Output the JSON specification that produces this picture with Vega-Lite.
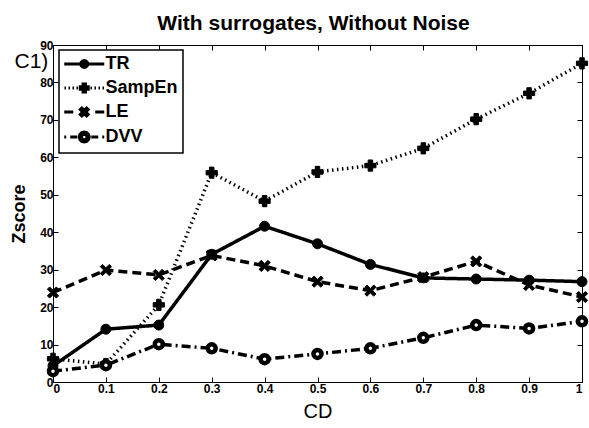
{
  "$schema": "https://vega.github.io/schema/vega-lite/v6.json",
  "width": 529,
  "height": 337,
  "autosize": {"type": "none"},
  "padding": {"left": 53, "top": 45, "right": 7, "bottom": 46},
  "background": "white",
  "title": {"text": "With surrogates, Without Noise", "fontSize": 21, "fontWeight": "bold", "font": "Liberation Sans", "color": "black", "anchor": "middle", "baseline": "alphabetic", "offset": -12, "dx": -4},
  "config": {
    "view": {"stroke": "black", "strokeWidth": 1},
    "axis": {"labelFont": "Liberation Sans", "labelFontSize": 12, "labelFontWeight": "bold", "labelColor": "black", "domainColor": "black", "tickColor": "black", "tickSize": -5, "grid": false, "titleColor": "black", "titleFont": "Liberation Sans"},
    "legend": {"strokeWidth": 1.5}
  },
  "data": {"values": [
    {"CD": 0, "series": "TR", "Zscore": 4.3},
    {"CD": 0.1, "series": "TR", "Zscore": 14.1},
    {"CD": 0.2, "series": "TR", "Zscore": 15.2},
    {"CD": 0.3, "series": "TR", "Zscore": 34.1},
    {"CD": 0.4, "series": "TR", "Zscore": 41.6},
    {"CD": 0.5, "series": "TR", "Zscore": 36.9},
    {"CD": 0.6, "series": "TR", "Zscore": 31.4},
    {"CD": 0.7, "series": "TR", "Zscore": 27.8},
    {"CD": 0.8, "series": "TR", "Zscore": 27.5},
    {"CD": 0.9, "series": "TR", "Zscore": 27.2},
    {"CD": 1, "series": "TR", "Zscore": 26.8},
    {"CD": 0, "series": "SampEn", "Zscore": 6.2},
    {"CD": 0.1, "series": "SampEn", "Zscore": 4.8},
    {"CD": 0.2, "series": "SampEn", "Zscore": 20.6},
    {"CD": 0.3, "series": "SampEn", "Zscore": 55.9},
    {"CD": 0.4, "series": "SampEn", "Zscore": 48.3},
    {"CD": 0.5, "series": "SampEn", "Zscore": 56.1},
    {"CD": 0.6, "series": "SampEn", "Zscore": 57.8},
    {"CD": 0.7, "series": "SampEn", "Zscore": 62.4},
    {"CD": 0.8, "series": "SampEn", "Zscore": 70.2},
    {"CD": 0.9, "series": "SampEn", "Zscore": 77.1},
    {"CD": 1, "series": "SampEn", "Zscore": 85.1},
    {"CD": 0, "series": "LE", "Zscore": 23.9},
    {"CD": 0.1, "series": "LE", "Zscore": 29.9},
    {"CD": 0.2, "series": "LE", "Zscore": 28.6},
    {"CD": 0.3, "series": "LE", "Zscore": 33.8},
    {"CD": 0.4, "series": "LE", "Zscore": 31.0},
    {"CD": 0.5, "series": "LE", "Zscore": 26.8},
    {"CD": 0.6, "series": "LE", "Zscore": 24.4},
    {"CD": 0.7, "series": "LE", "Zscore": 28.0},
    {"CD": 0.8, "series": "LE", "Zscore": 32.2},
    {"CD": 0.9, "series": "LE", "Zscore": 25.9},
    {"CD": 1, "series": "LE", "Zscore": 22.7},
    {"CD": 0, "series": "DVV", "Zscore": 2.9},
    {"CD": 0.1, "series": "DVV", "Zscore": 4.5},
    {"CD": 0.2, "series": "DVV", "Zscore": 10.1},
    {"CD": 0.3, "series": "DVV", "Zscore": 9.0},
    {"CD": 0.4, "series": "DVV", "Zscore": 6.1},
    {"CD": 0.5, "series": "DVV", "Zscore": 7.5},
    {"CD": 0.6, "series": "DVV", "Zscore": 9.0},
    {"CD": 0.7, "series": "DVV", "Zscore": 11.8},
    {"CD": 0.8, "series": "DVV", "Zscore": 15.2},
    {"CD": 0.9, "series": "DVV", "Zscore": 14.3},
    {"CD": 1, "series": "DVV", "Zscore": 16.2}
  ]},
  "layer": [
    {
      "mark": {"type": "line", "color": "black", "strokeWidth": 3.5},
      "encoding": {
        "x": {"field": "CD", "type": "quantitative", "scale": {"domain": [0, 1], "nice": false},
          "axis": {"orient": "bottom", "values": [0, 0.1, 0.2, 0.3, 0.4, 0.5, 0.6, 0.7, 0.8, 0.9, 1], "format": "~g", "title": "CD", "titleFontSize": 20, "titleFontWeight": "normal", "titleY": 35, "titleBaseline": "alphabetic", "labelPadding": 6}},
        "y": {"field": "Zscore", "type": "quantitative", "scale": {"domain": [0, 90], "nice": false},
          "axis": {"orient": "left", "values": [0, 10, 20, 30, 40, 50, 60, 70, 80, 90], "title": "Zscore", "titleFontSize": 18, "titleFontWeight": "bold", "titleX": -34, "titleBaseline": "middle", "labelPadding": 5}},
        "detail": {"field": "series", "type": "nominal"},
        "strokeDash": {"field": "series", "type": "nominal", "scale": {"domain": ["TR", "SampEn", "LE", "DVV"], "range": [[1, 0], [1.5, 3.5], [9, 5], [9, 4, 2, 4]]}, "legend": null}
      }
    },
    {
      "mark": {"type": "point", "filled": true, "stroke": "black", "opacity": 1},
      "encoding": {
        "x": {"field": "CD", "type": "quantitative", "scale": {"domain": [0, 1], "nice": false},
          "axis": {"orient": "top", "values": [0, 0.1, 0.2, 0.3, 0.4, 0.5, 0.6, 0.7, 0.8, 0.9, 1], "labels": false, "domain": false, "title": null}},
        "y": {"field": "Zscore", "type": "quantitative", "scale": {"domain": [0, 90], "nice": false},
          "axis": {"orient": "right", "values": [0, 10, 20, 30, 40, 50, 60, 70, 80, 90], "labels": false, "domain": false, "title": "C1)", "titleAngle": 0, "titleX": -568, "titleY": 22, "titleAlign": "left", "titleBaseline": "alphabetic", "titleFontSize": 21, "titleFontWeight": "normal"}},
        "shape": {"field": "series", "type": "nominal", "scale": {"domain": ["TR", "SampEn", "LE", "DVV"], "range": ["circle", "cross", "M-1,-0.6L-0.6,-1L0,-0.4L0.6,-1L1,-0.6L0.4,0L1,0.6L0.6,1L0,0.4L-0.6,1L-1,0.6L-0.4,0Z", "circle"]}, "legend": null},
        "size": {"condition": [{"test": "datum.series === 'DVV'", "value": 64}, {"test": "datum.series === 'TR'", "value": 100}], "value": 125},
        "fill": {"condition": {"test": "datum.series === 'DVV'", "value": "white"}, "value": "black"},
        "strokeWidth": {"condition": {"test": "datum.series === 'DVV'", "value": 4.5}, "value": 1}
      }
    },
    {
      "mark": {"type": "point", "filled": false, "color": "black", "stroke": "black", "strokeWidth": 3},
      "encoding": {
        "x": {"field": "CD", "type": "quantitative", "scale": {"domain": [0, 1], "nice": false}, "axis": null},
        "y": {"field": "Zscore", "type": "quantitative", "scale": {"domain": [0, 90], "nice": false}, "axis": null},
        "opacity": {"condition": {"test": "datum.Zscore > -1000", "value": 0}, "value": 1},
        "shape": {"field": "series", "type": "nominal",
          "scale": {"domain": ["TR", "SampEn", "LE", "DVV"], "range": [
            "M-4,0L4,0M0.7,0L0.606,0.35L0.35,0.606L0,0.7L-0.35,0.606L-0.606,0.35L-0.7,0L-0.606,-0.35L-0.35,-0.606L0,-0.7L0.35,-0.606L0.606,-0.35L0.7,0Z M0.3,0L0.26,0.15L0.15,0.26L0,0.3L-0.15,0.26L-0.26,0.15L-0.3,0L-0.26,-0.15L-0.15,-0.26L0,-0.3L0.15,-0.26L0.26,-0.15L0.3,0Z",
            "M-3.95,0L-3.65,0M-3.15,0L-2.85,0M-2.35,0L-2.05,0M-1.55,0L-1.25,0M1.25,0L1.55,0M2.05,0L2.35,0M2.85,0L3.15,0M3.65,0L3.95,0M-0.24,-0.8L0.24,-0.8L0.24,-0.24L0.8,-0.24L0.8,0.24L0.24,0.24L0.24,0.8L-0.24,0.8L-0.24,0.24L-0.8,0.24L-0.8,-0.24L-0.24,-0.24L-0.24,-0.8Z",
            "M-4,0L-2.2,0M2.2,0L4,0M-0.8,-0.48L-0.48,-0.8L0,-0.32L0.48,-0.8L0.8,-0.48L0.32,0L0.8,0.48L0.48,0.8L0,0.32L-0.48,0.8L-0.8,0.48L-0.32,0L-0.8,-0.48Z",
            "M-4,0L-3.6,0M-2.8,0L-1.4,0M1.4,0L2.8,0M3.6,0L4,0M1,0L0.866,0.5L0.5,0.866L0,1L-0.5,0.866L-0.866,0.5L-1,0L-0.866,-0.5L-0.5,-0.866L0,-1L0.5,-0.866L0.866,-0.5L1,0Z M0.56,0L0.485,-0.28L0.28,-0.485L0,-0.56L-0.28,-0.485L-0.485,-0.28L-0.56,0L-0.485,0.28L-0.28,0.485L0,0.56L0.28,0.485L0.485,0.28L0.56,0Z"
          ]},
          "legend": {"title": null, "orient": "none", "legendX": 6, "legendY": 5, "symbolSize": 100, "symbolOffset": 11.25, "labelOffset": 12.25, "labelFont": "Liberation Sans", "labelFontSize": 18, "labelFontWeight": "bold", "labelColor": "black", "strokeColor": "black", "fillColor": "white", "padding": 5, "rowPadding": 4, "symbolStrokeWidth": 3, "symbolStrokeColor": "black", "symbolOpacity": 1}
        }
      }
    }
  ],
  "resolve": {"axis": {"x": "independent", "y": "independent"}, "scale": {"shape": "independent"}}
}
